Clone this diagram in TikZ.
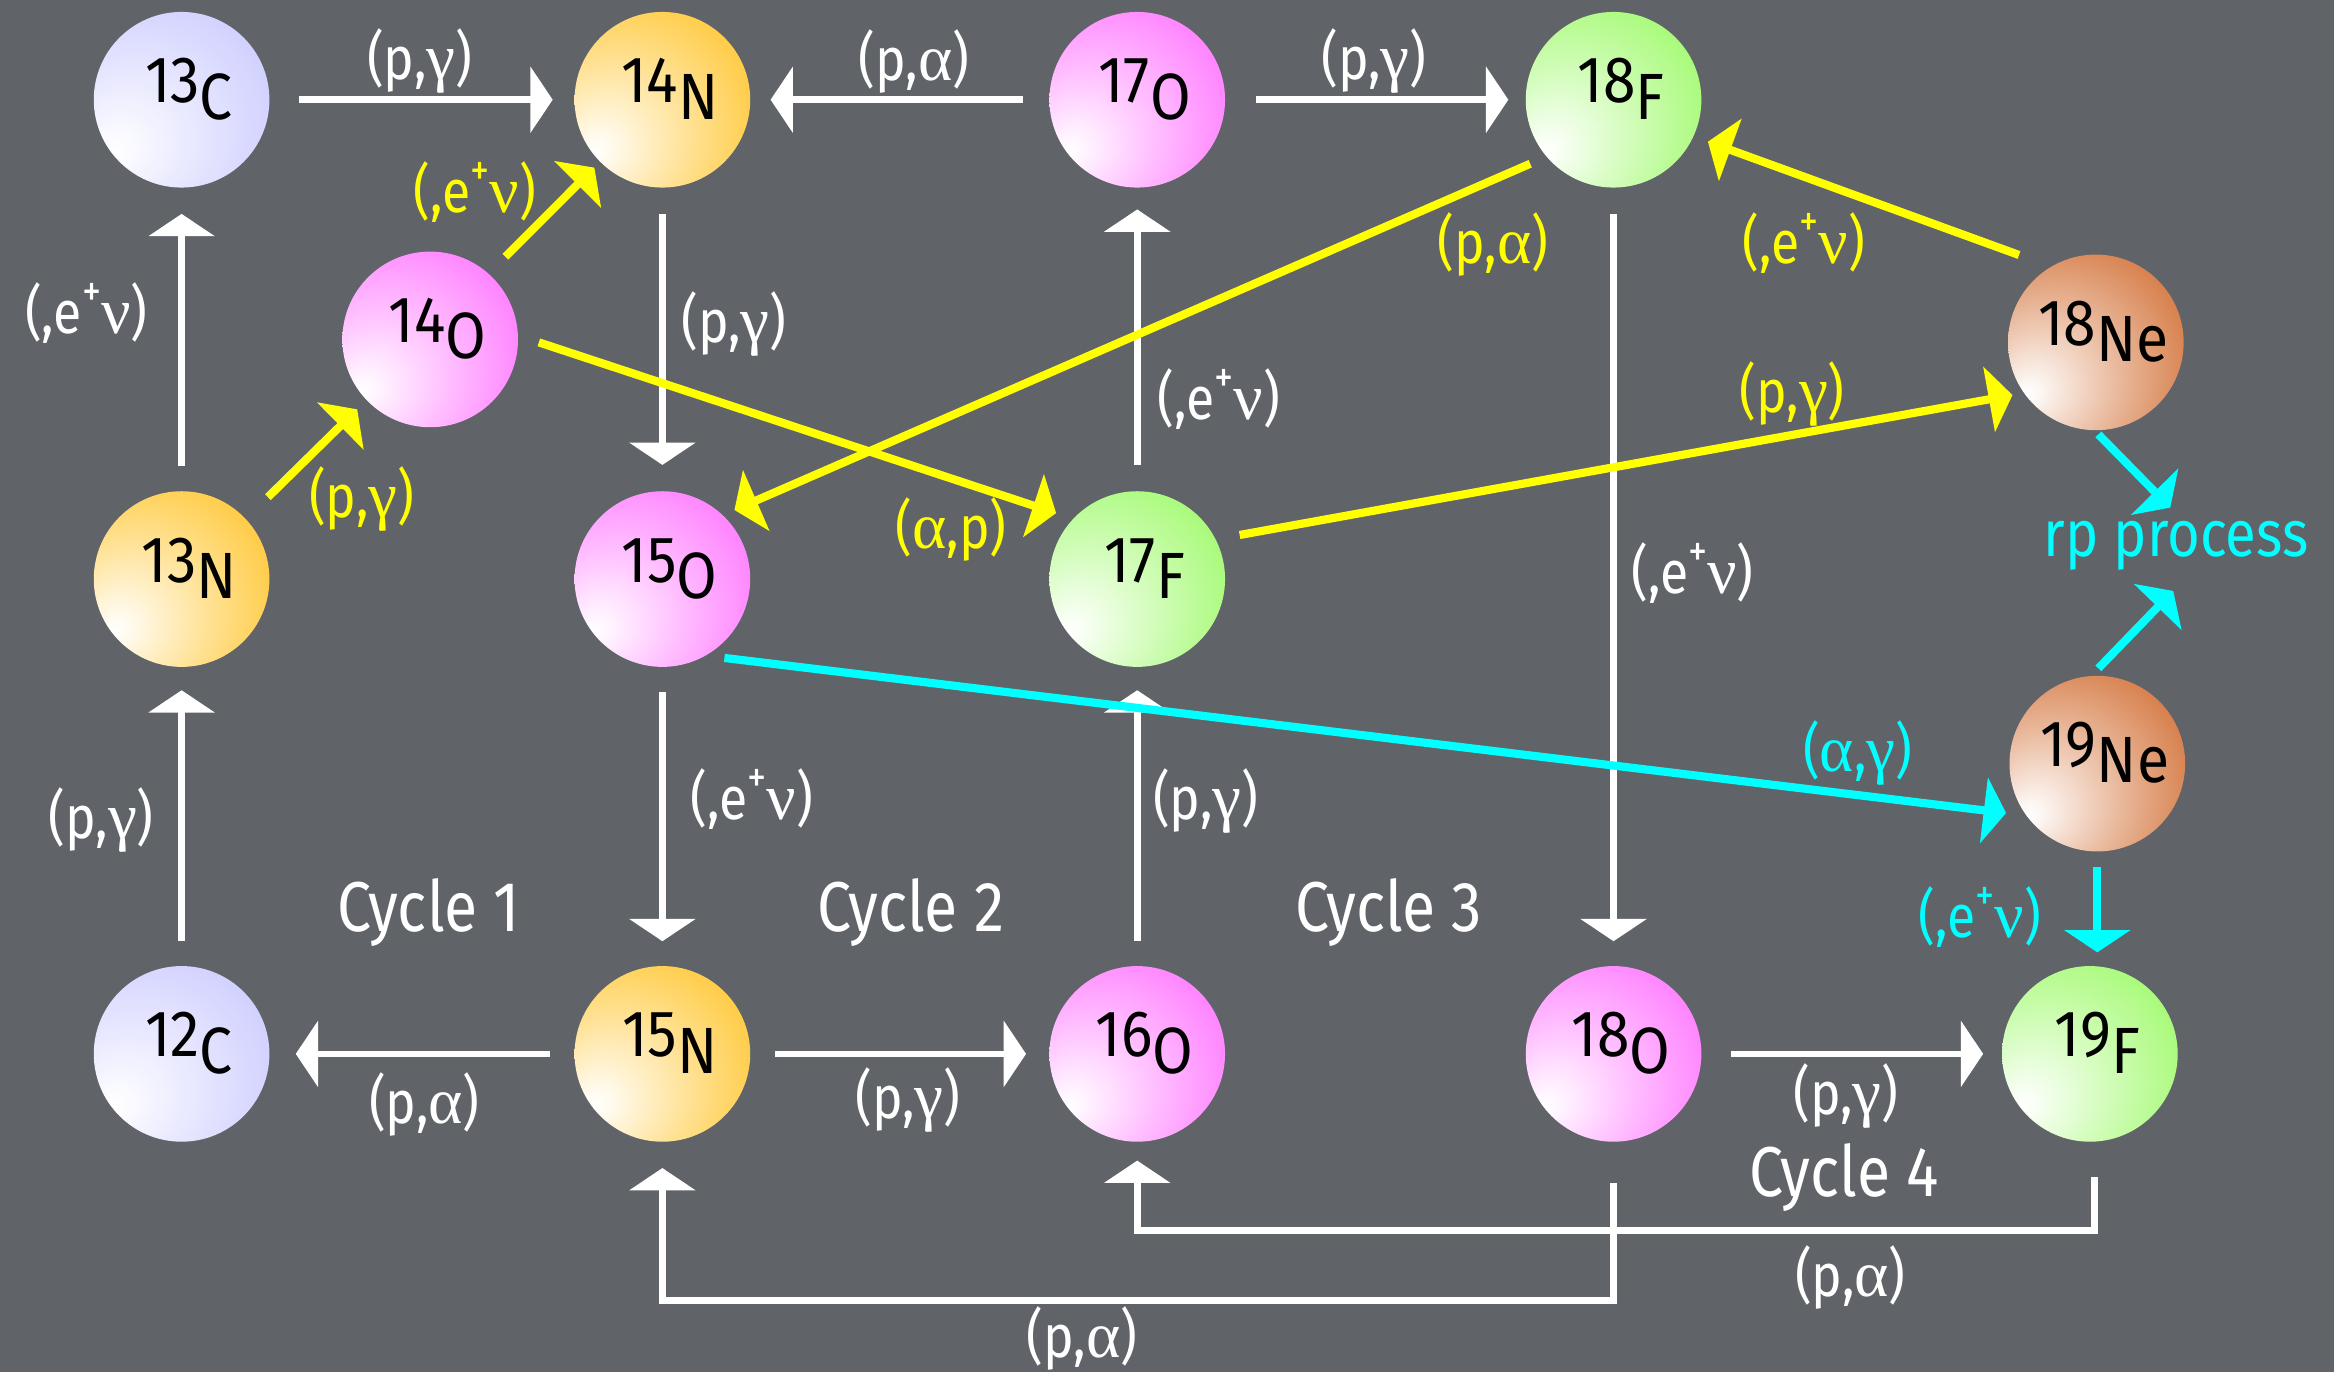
\documentclass[tikz,border=0pt]{standalone}
\usepackage{fontspec}
\setmainfont{Fira Sans}
\newfontfamily\lblfam{Fira Sans}[FakeStretch=0.86]
\newfontfamily\nucfam{Fira Sans}[FakeStretch=0.9]
\newfontfamily\grk{Liberation Serif}
\usetikzlibrary{arrows.meta,calc}
\definecolor{bgc}{RGB}{96,99,104}
\definecolor{lavc}{RGB}{205,205,255}
\definecolor{orac}{RGB}{255,200,56}
\definecolor{magc}{RGB}{255,122,255}
\definecolor{grnc}{RGB}{162,250,112}
\definecolor{brnc}{RGB}{212,118,62}
\definecolor{yelc}{RGB}{255,255,0}
\definecolor{cync}{RGB}{0,255,255}
\newcommand\mkball[2]{\pgfdeclareradialshading{ball#1}{\pgfpoint{-20bp}{-15bp}}{color(0bp)=(white); color(3bp)=(#2!6!white); color(20bp)=(#2!50!white); color(40bp)=(#2); color(70bp)=(#2)}}
\mkball{lav}{lavc}
\mkball{ora}{orac}
\mkball{mag}{magc}
\mkball{grn}{grnc}
\mkball{brn}{brnc}
\newcommand\nucfont{\nucfam\fontsize{12.5}{14}\selectfont}
\newcommand\lblfont{\lblfam\fontsize{11.5}{13}\selectfont}
\newcommand\cycfont{\lblfam\fontsize{13.5}{15}\selectfont}
\newcommand\rpfont{\lblfam\fontsize{12.5}{14}\selectfont}
\newcommand\nuc[2]{\smash{\hspace*{1mm}\raisebox{-0.2mm}{#1\raisebox{-1.1mm}{#2}}}}
\newcommand\gk[1]{{\grk\fontsize{12.5}{13}\selectfont #1}}
\newcommand\sps{\raisebox{0.85ex}{\fontsize{8.5}{9}\selectfont +}}
\newcommand\Lpg{(p,\gk{γ})}
\newcommand\Lpa{(p,\gk{α})}
\newcommand\Lev{(,e\sps\gk{ν})}
\newcommand\Lap{(\gk{α},p)}
\newcommand\Lag{(\gk{α},\gk{γ})}
\begin{document}
\begin{tikzpicture}[x=0.1mm,y=-0.1mm,
  ballnode/.style={circle, minimum size=11.8mm, inner sep=0pt, shade, shading=ball#1, font=\nucfont, text=black},
  wa/.style={draw=white, line width=0.45mm, -{Triangle[length=1.5mm,width=4.4mm]}},
  ya/.style={draw=yelc, line width=0.55mm, -{Triangle[length=1.6mm,width=4.4mm]}},
  ca/.style={draw=cync, line width=0.55mm, -{Triangle[length=1.5mm,width=4.4mm]}},
  wl/.style={text=white, font=\lblfont, inner sep=0pt},
  yl/.style={text=yelc, font=\lblfont, inner sep=0pt},
  cl/.style={text=cync, font=\lblfont, inner sep=0pt},
  cyc/.style={text=white, font=\cycfont, inner sep=0pt, anchor=base}]
\fill[bgc] (0,0) rectangle (1568,922);
\useasboundingbox (0,0) rectangle (1568,922);
% nuclides
\node[ballnode=lav] (c13) at (122,67) {\nuc{13}{C}};
\node[ballnode=ora] (n14) at (445,67) {\nuc{14}{N}};
\node[ballnode=mag] (o17) at (764,67) {\nuc{17}{O}};
\node[ballnode=grn] (f18) at (1084,67) {\nuc{18}{F}};
\node[ballnode=mag] (o14) at (289,228) {\nuc{14}{O}};
\node[ballnode=brn] (ne18) at (1408,230) {\nuc{18}{Ne}};
\node[ballnode=ora] (n13) at (122,389) {\nuc{13}{N}};
\node[ballnode=mag] (o15) at (445,389) {\nuc{15}{O}};
\node[ballnode=grn] (f17) at (764,389) {\nuc{17}{F}};
\node[ballnode=brn] (ne19) at (1409,513) {\nuc{19}{Ne}};
\node[ballnode=lav] (c12) at (122,708) {\nuc{12}{C}};
\node[ballnode=ora] (n15) at (445,708) {\nuc{15}{N}};
\node[ballnode=mag] (o16) at (764,708) {\nuc{16}{O}};
\node[ballnode=mag] (o18) at (1084,708) {\nuc{18}{O}};
\node[ballnode=grn] (f19) at (1404,708) {\nuc{19}{F}};
% white connectors
\draw[wa, shorten <=1.9mm, shorten >=1.4mm] (c13) -- (n14);
\draw[wa, shorten <=1.7mm, shorten >=1.3mm] (o17) -- (n14);
\draw[wa, shorten <=2.0mm, shorten >=1.1mm] (o17) -- (f18);
\draw[wa, shorten <=1.6mm, shorten >=1.7mm] (n13) -- (c13);
\draw[wa, shorten <=1.7mm, shorten >=1.7mm] (n14) -- (o15);
\draw[wa, shorten <=1.7mm, shorten >=1.4mm] (f17) -- (o17);
\draw[wa, shorten <=1.7mm, shorten >=1.6mm] (f18) -- (o18);
\draw[wa, shorten <=1.6mm, shorten >=1.5mm] (c12) -- (n13);
\draw[wa, shorten <=1.6mm, shorten >=1.6mm] (o15) -- (n15);
\draw[wa, shorten <=1.6mm, shorten >=1.5mm] (o16) -- (f17);
\draw[wa, shorten <=1.6mm, shorten >=1.7mm] (n15) -- (c12);
\draw[wa, shorten <=1.6mm, shorten >=1.5mm] (n15) -- (o16);
\draw[wa, shorten <=1.9mm, shorten >=1.2mm] (o18) -- (f19);
\draw[wa, shorten <=2.7mm, shorten >=1.7mm] (o18.south) -- ++(0,106) -| (n15.south);
\draw[wa, shorten <=2.3mm, shorten >=1.2mm] ([xshift=0.3mm]f19.south) -- ++(0,59) -| (o16.south);
% yellow connectors
\draw[ya] ($(n13)+(58,-55)$) -- ($(o14)+(-49,47)$);
\draw[ya] ($(o14)+(50.5,-55.5)$) -- ($(n14)+(-45.7,45.6)$);
\draw[ya] ($(o14)+(73,2)$) -- ($(f17)+(-54.5,-44.3)$);
\draw[ya] ($(f18)+(-56,43)$) -- ($(o15)+(48.4,-46.4)$);
\draw[ya] ($(f17)+(68.8,-29.6)$) -- ($(ne18)+(-56,35.4)$);
\draw[ya] ($(ne18)+(-51.6,-58.7)$) -- ($(f18)+(63.4,28.2)$);
% cyan connectors
\coordinate (rpa) at (1458,341);
\coordinate (rpb) at (1460,397);
\draw[ca] ($(o15)+(41.7,53)$) -- ($(ne19)+(-61.3,33.2)$);
\draw[ca] ($(ne18)+(1.7,61.8)$) -- (rpa);
\draw[ca] ($(ne19)+(0.7,-64)$) -- (rpb);
\draw[ca, shorten <=1.0mm, shorten >=0.85mm] (ne19.south) -- (ne19.south |- f19.north);
\node[text=cync, font=\rpfont, inner sep=0pt] (rp) at (1462,367) {rp process};
% labels
\node[wl] (l1) at (282,41) {\Lpg};
\node[wl] (l2) at (614,41) {\Lpa};
\node[wl] (l3) at (923,41) {\Lpg};
\node[wl] (l4) at (58,210) {\Lev};
\node[yl] (l5) at (319,129) {\Lev};
\node[wl] (l6) at (493,218) {\Lpg};
\node[yl] (l7) at (1003,164) {\Lpa};
\node[wl] (l8) at (819,268) {\Lev};
\node[yl] (l9) at (1212,163) {\Lev};
\node[yl] (l10) at (1204,265) {\Lpg};
\node[yl] (l11) at (243,335) {\Lpg};
\node[yl] (l12) at (639,356) {\Lap};
\node[wl] (l13) at (1137,385) {\Lev};
\node[cl] (l14) at (1248,506) {\Lag};
\node[wl] (l15) at (505,537) {\Lev};
\node[wl] (l16) at (810,538) {\Lpg};
\node[wl] (l17) at (68,551) {\Lpg};
\node[cl] (l18) at (1330,616) {\Lev};
\node[wl] (l19) at (285,742) {\Lpa};
\node[wl] (l20) at (610,739) {\Lpg};
\node[wl] (l21) at (1240,736) {\Lpg};
\node[wl] (l22) at (1243,858) {\Lpa};
\node[wl] (l23) at (727,899) {\Lpa};
\node[cyc] (cy1) at (288,626) {Cycle 1};
\node[cyc] (cy2) at (612,626) {Cycle 2};
\node[cyc] (cy3) at (933,626) {Cycle 3};
\node[cyc] (cy4) at (1239,804) {Cycle 4};
\end{tikzpicture}
\end{document}
